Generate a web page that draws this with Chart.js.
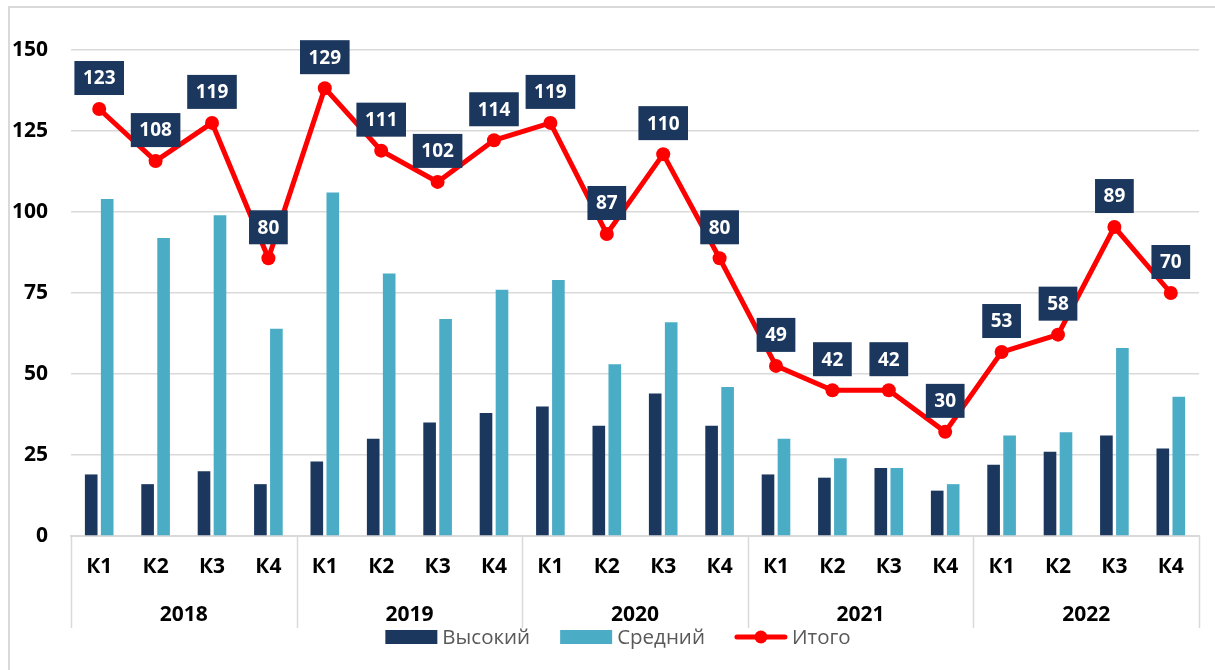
<!DOCTYPE html>
<html lang="ru">
<head>
<meta charset="utf-8">
<script src="https://cdn.jsdelivr.net/npm/chart.js@4/dist/chart.umd.min.js"></script>
<style>
  html, body { margin: 0; padding: 0; background: #fff; }
  #wrap { position: relative; width: 1215px; height: 670px; overflow: hidden; }
  #frame { position: absolute; left: 8px; top: 6px; width: 1230px; height: 700px; border: 2px solid #d9d9d9; box-sizing: border-box; }
  canvas { position: absolute; left: 0; top: 0; }
</style>
</head>
<body>
<div id="wrap">
  <div id="frame"></div>
  <canvas id="chart" width="1215" height="670"></canvas>
</div>
<script>
const quarters = ["К1", "К2", "К3", "К4", "К1", "К2", "К3", "К4", "К1", "К2", "К3", "К4", "К1", "К2", "К3", "К4", "К1", "К2", "К3", "К4"];
const years = ["2018", "2019", "2020", "2021", "2022"];
const highValues = [19, 16, 20, 16, 23, 30, 35, 38, 40, 34, 44, 34, 19, 18, 21, 14, 22, 26, 31, 27];
const mediumValues = [104, 92, 99, 64, 106, 81, 67, 76, 79, 53, 66, 46, 30, 24, 21, 16, 31, 32, 58, 43];
const totalValues = [123, 108, 119, 80, 129, 111, 102, 114, 119, 87, 110, 80, 49, 42, 42, 30, 53, 58, 89, 70];
const yTicks = [0, 25, 50, 75, 100, 125, 150];

const NAVY = "#1b375e";
const AQUA = "#4bacc6";
const RED = "#ff0000";
const FONT = "'Open Sans', 'Noto Sans', sans-serif";

// boxes with the totals above each point of the line
const totalLabels = {
  id: "totalLabels",
  afterDatasetsDraw(chart) {
    const meta = chart.getDatasetMeta(2);
    const ctx = chart.ctx;
    ctx.save();
    ctx.font = "bold 19px " + FONT;
    ctx.textAlign = "center";
    ctx.textBaseline = "middle";
    meta.data.forEach((pt, i) => {
      const text = String(totalValues[i]);
      const w = ctx.measureText(text).width + 17;
      const h = 34;
      const bottom = pt.y - 14;
      ctx.fillStyle = NAVY;
      ctx.fillRect(pt.x - w / 2, bottom - h, w, h);
      ctx.fillStyle = "#ffffff";
      ctx.fillText(text, pt.x, bottom - h / 2 + 1);
    });
    ctx.restore();
  }
};

// year separators and the bottom legend
const groupAxis = {
  id: "groupAxis",
  afterDraw(chart) {
    const ctx = chart.ctx;
    const x2 = chart.scales.x2;
    const area = chart.chartArea;
    const step = x2.getPixelForValue(1) - x2.getPixelForValue(0);
    ctx.save();
    ctx.strokeStyle = "#d9d9d9";
    ctx.lineWidth = 1.5;
    for (let j = 0; j <= years.length; j++) {
      const px = Math.round(x2.getPixelForValue(0) - step / 2 + j * step) + 0.5;
      ctx.beginPath();
      ctx.moveTo(px, area.bottom);
      ctx.lineTo(px, 628);
      ctx.stroke();
    }

    const items = [
      { text: "Высокий", kind: "box", color: NAVY },
      { text: "Средний", kind: "box", color: AQUA },
      { text: "Итого", kind: "line", color: RED }
    ];
    ctx.font = "20.5px " + FONT;
    ctx.textBaseline = "middle";
    const symW = 52, gap = 5, spacing = 30;
    let total = 0;
    items.forEach((it, i) => {
      total += symW + gap + ctx.measureText(it.text).width + (i ? spacing : 0);
    });
    let x = 618 - total / 2;
    const y = 637;
    items.forEach((it) => {
      if (it.kind === "box") {
        ctx.fillStyle = it.color;
        ctx.fillRect(x, y - 7, symW, 14);
      } else {
        ctx.strokeStyle = it.color;
        ctx.lineWidth = 5;
        ctx.lineCap = "round";
        ctx.beginPath();
        ctx.moveTo(x + 2, y);
        ctx.lineTo(x + symW - 2, y);
        ctx.stroke();
        ctx.fillStyle = it.color;
        ctx.beginPath();
        ctx.arc(x + symW / 2, y, 6.5, 0, Math.PI * 2);
        ctx.fill();
      }
      ctx.fillStyle = "#595959";
      ctx.textAlign = "left";
      ctx.fillText(it.text, x + symW + gap, y + 1);
      x += symW + gap + ctx.measureText(it.text).width + spacing;
    });
    ctx.restore();
  }
};

new Chart(document.getElementById("chart"), {
  type: "bar",
  data: {
    labels: quarters,
    datasets: [
      {
        label: "Высокий",
        data: highValues,
        backgroundColor: NAVY,
        categoryPercentage: 0.567,
        barPercentage: 0.79,
        order: 2
      },
      {
        label: "Средний",
        data: mediumValues,
        backgroundColor: AQUA,
        categoryPercentage: 0.567,
        barPercentage: 0.79,
        order: 2
      },
      {
        type: "line",
        label: "Итого",
        data: totalValues,
        yAxisID: "y1",
        borderColor: RED,
        backgroundColor: RED,
        borderWidth: 5,
        pointRadius: 7,
        pointBorderWidth: 0,
        pointBackgroundColor: RED,
        tension: 0,
        order: 0
      }
    ]
  },
  options: {
    responsive: false,
    animation: false,
    events: [],
    layout: { padding: { left: 0, right: 16, top: 50, bottom: 38 } },
    plugins: {
      legend: { display: false },
      tooltip: { enabled: false }
    },
    scales: {
      x: {
        weight: 0,
        grid: { display: false, drawTicks: false },
        border: { display: true, color: "#d9d9d9", width: 2 },
        ticks: { color: "#000", font: { family: FONT, size: 21, weight: "bold" }, padding: 18, maxRotation: 0, autoSkip: false },
        afterFit(scale) { scale.height = 58; }
      },
      x2: {
        type: "category",
        labels: years,
        position: "bottom",
        offset: true,
        weight: 1,
        grid: { display: false, drawTicks: false },
        border: { display: false },
        ticks: { color: "#000", font: { family: FONT, size: 21, weight: "bold" }, padding: 8, maxRotation: 0 },
        afterFit(scale) { scale.height = 38; }
      },
      y: {
        min: 0,
        max: 150,
        afterBuildTicks(scale) { scale.ticks = yTicks.map((v) => ({ value: v })); },
        grid: { color: "#d9d9d9", lineWidth: 1.5, drawTicks: false },
        border: { display: false },
        ticks: { color: "#000", font: { family: FONT, size: 21, weight: "bold" }, padding: 23 },
        afterFit(scale) { scale.width = 71; }
      },
      y1: {
        display: false,
        min: 0,
        max: 140
      }
    }
  },
  plugins: [totalLabels, groupAxis]
});
</script>
</body>
</html>
